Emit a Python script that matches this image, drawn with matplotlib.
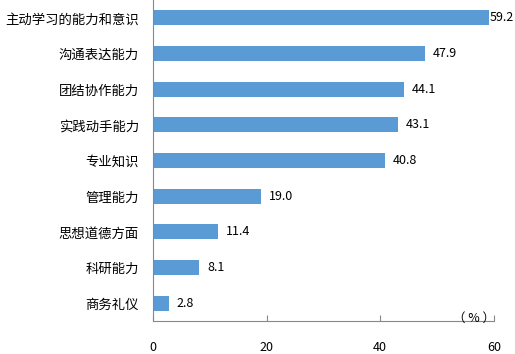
import matplotlib
matplotlib.use('Agg')
import matplotlib.pyplot as plt

plt.rcParams['font.family'] = ['Noto Sans CJK SC', 'DejaVu Sans']

categories = ['主动学习的能力和意识', '沟通表达能力', '团结协作能力', '实践动手能力',
              '专业知识', '管理能力', '思想道德方面', '科研能力', '商务礼仪']
values = [59.2, 47.9, 44.1, 43.1, 40.8, 19.0, 11.4, 8.1, 2.8]
xticks = [0, 20, 40, 60]

fig = plt.figure(figsize=(5.15, 3.54), dpi=100)
ax = fig.add_axes([0.297, 0.093, 0.662, 0.907])

y = list(range(len(categories)))
ax.barh(y, values, height=0.42, color='#5B9BD5')
for yi, v in zip(y, values):
    off = 0 if v > 58 else 1.4
    ax.text(v + off, yi, f'{v:.1f}', va='center', ha='left', fontsize=9, color='black')

ax.set_ylim(8.5, -0.5)
ax.set_xlim(0, 60)
ax.set_yticks(y)
ax.set_yticklabels(categories, fontsize=9.6)
ax.set_xticks(xticks)
ax.set_xticklabels([str(t) for t in xticks], fontsize=9)
ax.tick_params(axis='y', length=0, pad=10)
ax.tick_params(axis='x', direction='in', length=4, color='#888888', pad=14)

for s in ['top', 'right']:
    ax.spines[s].set_visible(False)
for s in ['left', 'bottom']:
    ax.spines[s].set_color('#888888')

ax.text(56.5, 8.6, '（ % ）', ha='center', va='bottom', fontsize=9)

fig.savefig('out.png', dpi=100)
